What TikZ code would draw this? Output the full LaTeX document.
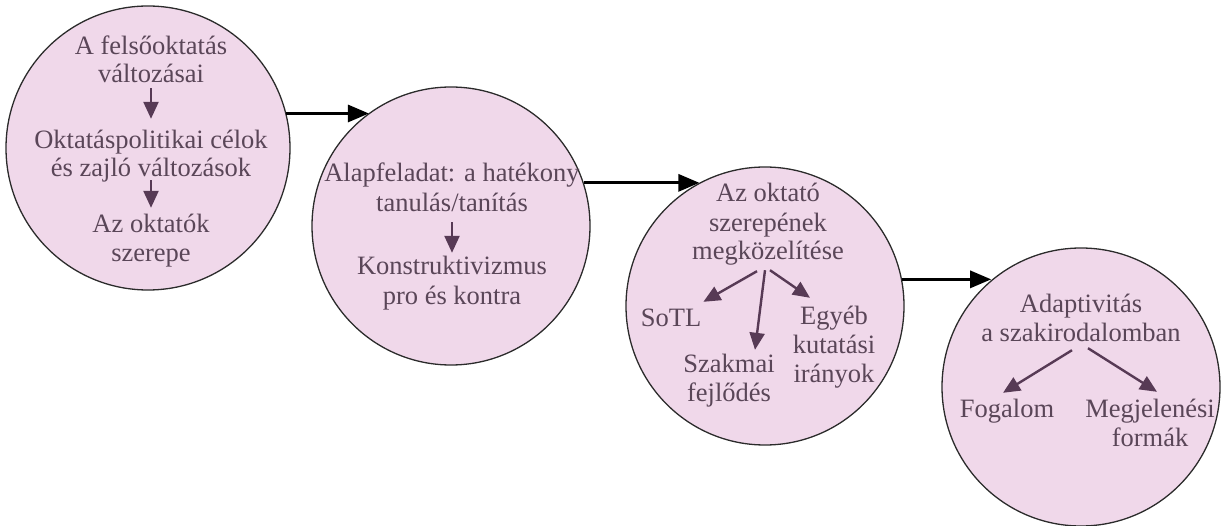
\documentclass[tikz,border=0pt]{standalone}
\usepackage{fontspec}
\setmainfont{Liberation Serif}
\usetikzlibrary{arrows.meta,calc}
\definecolor{bubble}{HTML}{F0D8EA}
\definecolor{ink}{HTML}{5A4658}
\definecolor{pointer}{HTML}{573A55}
\definecolor{rim}{HTML}{2B2B2B}

\begin{document}
\begin{tikzpicture}[x=1pt,y=-1pt,
  stage/.style={circle, draw=rim, line width=1.3pt, fill=bubble, inner sep=0pt, minimum size=#1},
  lbl/.style={font=\fontsize{26.5}{29}\selectfont, text=ink, inner sep=0pt, anchor=base,
              text height=18pt, text depth=6pt},
  inarrow/.style={draw=pointer, line width=2.4pt, -{Triangle[length=17pt,width=15pt]}},
  outarrow/.style={draw=black, line width=3pt, -{Triangle[length=21pt,width=17pt]}},
]
\useasboundingbox (0,0) rectangle (1232,526);

% the four stages
\node[stage=284pt] (c1) at (148,148) {};
\node[stage=278pt] (c2) at (451,226) {};
\node[stage=278pt] (c3) at (765,306) {};
\node[stage=278pt] (c4) at (1081,387) {};

% stage 1
\node[lbl] (a1) at (151,55)  {A felsőoktatás};
\node[lbl] (a2) at (151,83)  {változásai};
\node[lbl] (a3) at (151,149) {Oktatáspolitikai célok};
\node[lbl] (a4) at (151,177) {és zajló változások};
\node[lbl] (a5) at (151,233) {Az oktatók};
\node[lbl] (a6) at (151,262) {szerepe};
\draw[inarrow, shorten <=-1pt, shorten >=12pt] (a2.south) -- (a3.north);
\draw[inarrow, shorten <=-3pt, shorten >=7pt] (a4.south) -- (a5.north);

% stage 2
\node[lbl] (b1) at (452,182) {Alapfeladat: a hatékony};
\node[lbl] (b2) at (452,212) {tanulás/tanítás};
\node[lbl] (b3) at (452,275) {Konstruktivizmus};
\node[lbl] (b4) at (452,305) {pro és kontra};
\draw[inarrow, shorten <=4pt, shorten >=4pt] (b2.south) -- (b3.north);

% stage 3
\node[lbl] (m1) at (768,202) {Az oktató};
\node[lbl] (m2) at (768,232) {szerepének};
\node[lbl] (m3) at (768,260) {megközelítése};
\node[lbl] (sotl) at (671,327) {SoTL};
\node[lbl] (sz1) at (729,373) {Szakmai};
\node[lbl] (sz2) at (729,402) {fejlődés};
\node[lbl] (eg1) at (834,325) {Egyéb};
\node[lbl] (eg2) at (834,354) {kutatási};
\node[lbl] (eg3) at (834,383) {irányok};
\draw[inarrow] ($(m3.south)+(-11,5)$) -- ($(sotl.north east)+(2,-7)$);
\draw[inarrow] ($(m3.south)+(-3,4)$) -- ($(sz1.north)+(26,-5)$);
\draw[inarrow] ($(m3.south)+(2,4)$) -- ($(eg1.north)+(-24,-9)$);

% stage 4
\node[lbl] (d1) at (1081,313) {Adaptivitás};
\node[lbl] (d2) at (1081,342) {a szakirodalomban};
\node[lbl] (fog) at (1007,418) {Fogalom};
\node[lbl] (mg1) at (1150,418) {Megjelenési};
\node[lbl] (mg2) at (1150,447) {formák};
\draw[inarrow] ($(d2.south)+(-9,2)$) -- ($(fog.north)+(-4,-7)$);
\draw[inarrow] ($(d2.south)+(7,0)$) -- ($(mg1.north)+(7,-8)$);

% links between the stages
\draw[outarrow] (c1.14) -- (c1.14 -| c2.126);
\draw[outarrow] (c2.18) -- (c2.18 -| c3.118);
\draw[outarrow] (c3.11) -- (c3.11 -| c4.130);
\end{tikzpicture}
\end{document}
